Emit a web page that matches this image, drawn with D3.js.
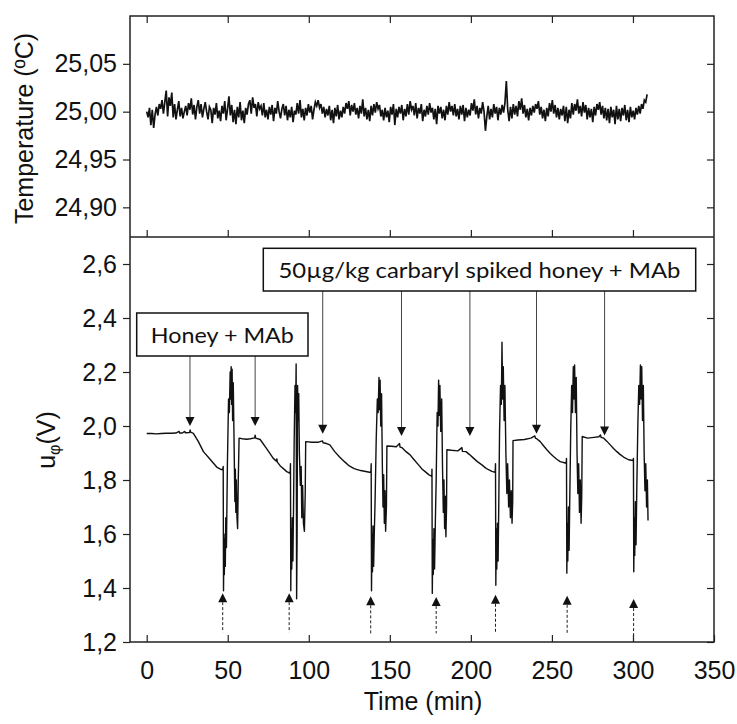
<!DOCTYPE html>
<html>
<head>
<meta charset="utf-8">
<script src="https://cdn.jsdelivr.net/npm/d3@7"></script>
<style>
  body { margin: 0; background: #fff; }
  svg { display: block; }
</style>
</head>
<body>
<div id="chart"></div>
<script>
// Temperature + u_phi trace vs time, two stacked panels sharing the x axis

// AXIS TICKS
const xTicks    = [0, 50, 100, 150, 200, 250, 300, 350];
const tempTicks = [24.90, 24.95, 25.00, 25.05];
const uTicks    = [1.2, 1.4, 1.6, 1.8, 2.0, 2.2, 2.4, 2.6];

// TEMPERATURE TRACE — deviation from 25,000 ºC in thousandths, one sample every 0.86 min
const tempBase = 25.0, tempStep = 0.86;
const tempDevMilli = [
  0,-6,4,-14,2,-17,-3,5,-4,8,3,12,-2,10,22,-5,15,6,
  20,-6,8,-8,2,11,-5,4,-7,0,6,-4,9,2,14,-3,7,-8,
  5,12,-2,8,-6,3,10,0,-8,5,2,-12,4,-3,9,-7,1,-10,
  6,-2,11,-9,3,16,-4,7,-11,2,-13,5,-6,10,-9,1,-12,4,
  -3,8,12,-2,15,4,8,-5,10,3,6,-4,9,-6,2,-8,5,-3,
  7,-10,4,-2,11,0,-7,3,8,-4,6,-9,2,-6,5,-11,1,-3,
  9,-2,12,-6,3,-9,4,-4,8,-1,6,-8,2,10,6,12,4,8,
  -2,5,-6,3,-4,6,-9,2,-12,4,-5,7,-8,1,-6,5,-2,9,
  3,11,-4,7,0,9,-3,4,-7,6,-2,13,-5,4,-8,2,-10,6,
  -4,8,-1,10,3,7,-5,2,-9,4,-6,1,-11,5,-3,8,-14,3,
  -6,5,-2,7,-9,3,-5,8,-3,11,2,6,-4,9,-7,4,-2,8,
  -10,2,-5,6,-3,9,-1,4,-8,3,-13,6,-2,5,-7,2,-9,6,
  -3,10,0,6,-4,8,-5,3,-8,6,-3,7,-10,4,-6,2,-4,9,
  1,13,-3,6,-7,4,-2,10,0,-20,-5,6,-8,3,-6,8,-2,5,
  -9,4,-3,7,-1,9,32,2,-10,5,-7,8,-3,6,-5,11,2,14,
  -2,7,-6,3,-9,4,-4,6,-1,8,3,11,-3,5,-7,2,-10,4,
  -5,9,0,12,-2,7,-6,4,-8,3,-4,6,-10,5,-12,2,-7,9,
  -3,8,1,13,-2,6,-5,10,-1,7,-8,4,-6,3,-11,5,-4,8,
  2,10,-3,6,-7,4,-9,3,-12,5,-6,2,-13,6,-8,3,-10,4,
  -4,7,-9,2,-11,5,-6,1,-8,4,-3,6,-2,8,3,12,10,18
];

// u_phi TRACE — [time (min), volts], one array per injection cycle
const uCycle1 = [
  [0,1.972],[3,1.972],[6,1.971],[9,1.972],[12,1.973],[15,1.973],[18,1.974],[20,1.98],[20.3,1.974],
  [22,1.974],[23.5,1.98],[23.8,1.975],[26.5,1.976],[26.8,1.985],[27.1,1.977],[28.8,1.973],
  [31.9,1.942],[35.0,1.905],[39.1,1.877],[43.2,1.848],[45.5,1.840],[46.9,1.838],
  [47.2,1.85],[47.4,1.39],[47.7,1.60],[47.9,1.45],[48.2,1.58],[48.5,1.48],[48.8,1.66],[49.2,1.55],
  [49.8,1.86],[50.5,2.10],[51.0,2.05],[51.5,2.20],[51.8,2.10],[52.1,2.22],[52.4,2.08],[52.7,2.21],
  [53.0,2.02],[53.4,2.16],[54.0,1.90],[54.4,1.72],[54.7,1.84],[55.0,1.68],[55.3,1.80],[55.7,1.66],
  [56.1,1.62],[56.5,1.80]
];
const uCycle2 = [
  [57.0,1.955],[59,1.953],[61.7,1.951],[64,1.953],[66.6,1.956],[66.9,1.966],[67.2,1.955],[70,1.950],
  [74.1,1.915],[78.1,1.880],[80,1.870],[80.3,1.878],[80.6,1.866],[82.3,1.853],[86.4,1.831],[88.5,1.825],
  [88.7,1.86],[88.9,1.39],[89.2,1.62],[89.5,1.47],[89.8,1.66],[90.2,1.50],[90.6,1.70],[91.0,1.95],
  [91.5,2.15],[91.9,2.05],[92.2,2.23],[92.5,1.36],[92.8,1.60],[93.1,2.15],[93.4,2.02],[93.8,2.12],
  [94.2,1.90],[94.8,1.78],[95.3,1.85],[95.7,1.66],[96.2,1.78],[96.7,1.64],[97.3,1.61],[97.8,1.75]
];
const uCycle3 = [
  [98.1,1.942],[102,1.940],[106,1.940],[108.5,1.945],[108.8,1.938],[111,1.935],[113,1.930],
  [116,1.905],[119,1.885],[122,1.868],[125,1.852],[128,1.842],[132,1.835],[138.3,1.828],
  [138.5,1.86],[138.7,1.39],[139.0,1.60],[139.3,1.46],[139.6,1.63],[140.0,1.48],[140.4,1.60],
  [140.9,1.72],[141.6,1.95],[142.3,2.10],[142.8,2.05],[143.3,2.18],[143.7,2.06],[144.0,2.17],
  [144.4,2.00],[144.9,2.12],[145.4,1.85],[145.8,1.70],[146.2,1.82],[146.6,1.64],[147.0,1.76],
  [147.4,1.61],[147.9,1.70]
];
const uCycle4 = [
  [148.2,1.926],[151,1.925],[154,1.923],[156,1.935],[156.3,1.922],[157.4,1.920],[160,1.905],
  [162.5,1.893],[165,1.875],[167.7,1.856],[170,1.840],[171.8,1.831],[174,1.820],[175.9,1.813],
  [176.0,1.84],[176.2,1.38],[176.5,1.58],[176.8,1.45],[177.2,1.62],[177.6,1.47],[178.1,1.65],
  [178.6,1.80],[179.2,2.05],[179.7,2.00],[180.1,2.17],[180.5,2.04],[180.9,2.15],[181.4,1.98],
  [182.0,2.10],[182.5,1.85],[183.0,1.68],[183.4,1.80],[183.8,1.62],[184.2,1.74],[184.6,1.59],
  [185.0,1.70]
];
const uCycle5 = [
  [185.2,1.912],[188,1.910],[192,1.908],[194.5,1.920],[194.8,1.906],[197,1.905],[199,1.895],
  [201.6,1.881],[204,1.868],[206.8,1.856],[209,1.845],[210.9,1.838],[213,1.832],[215.0,1.828],
  [215.2,1.86],[215.4,1.41],[215.7,1.62],[216.0,1.47],[216.4,1.64],[216.8,1.50],[217.2,1.70],
  [217.7,1.98],[218.3,2.15],[218.8,2.08],[219.2,2.31],[219.6,2.10],[220.0,2.22],[220.5,2.02],
  [221.0,2.15],[221.6,1.90],[222.2,1.75],[222.7,1.86],[223.3,1.70],[223.8,1.80],[224.4,1.66],
  [224.9,1.76],[225.4,1.64],[225.8,1.72]
];
const uCycle6 = [
  [226.0,1.946],[229,1.948],[233,1.950],[237,1.955],[239.5,1.963],[239.8,1.955],[240.8,1.952],
  [242.8,1.942],[244.8,1.927],[246.9,1.912],[249,1.898],[251,1.887],[253,1.877],[255.1,1.868],
  [258.8,1.862],
  [259.0,1.88],[259.2,1.455],[259.5,1.64],[259.8,1.50],[260.2,1.70],[260.6,1.54],[261.0,1.72],
  [261.6,1.98],[262.2,2.15],[262.7,2.05],[263.2,2.22],[263.6,2.10],[264.0,2.226],[264.5,2.05],
  [265.0,2.18],[265.5,1.90],[266.0,1.75],[266.5,1.86],[267.0,1.68],[267.5,1.80],[268.0,1.64],
  [268.4,1.74]
];
const uCycle7 = [
  [268.7,1.961],[272,1.955],[276,1.958],[279,1.960],[280,1.967],[280.3,1.958],[282,1.955],
  [284,1.943],[286,1.930],[288,1.917],[290.1,1.905],[292,1.895],[294.2,1.885],[297.3,1.875],
  [300.0,1.872],
  [300.3,1.88],[300.5,1.46],[300.8,1.66],[301.1,1.52],[301.5,1.72],[301.9,1.56],[302.4,1.78],
  [303.0,2.00],[303.6,2.15],[304.1,2.08],[304.6,2.226],[305.0,2.10],[305.4,2.22],[305.9,2.02],
  [306.4,2.15],[306.9,1.90],[307.4,1.76],[307.9,1.86],[308.4,1.70],[308.9,1.80],[309.3,1.65]
];

// ANNOTATION ARROWS (time, tip value)
const honeyArrowTimes  = [26.7, 66.9];
const honeyArrowTips   = [2.0, 2.0];
const spikedArrowTimes = [108.6, 157.2, 199.4, 240.5, 282.5];
const spikedArrowTips  = [1.971, 1.963, 1.963, 1.971, 1.965];
const injectTimes = [46.9, 87.9, 138.2, 178.6, 215.2, 259.4, 300.4];
const injectTips  = [1.381, 1.381, 1.369, 1.367, 1.375, 1.371, 1.359];
const injectTails = [1.236, 1.236, 1.232, 1.232, 1.233, 1.232, 1.2];

function drawChart() {
  const W = 737, H = 724;
  const L = 130, R = 714, T = 16, MID = 237, B = 642;
  const TICK = 25;                // tick label font size
  const axisFont = "'Liberation Sans', Arial, sans-serif";
  const boxFont  = "Lato, 'Open Sans', sans-serif";
  const ink = "#111";

  const svg = d3.select("#chart").append("svg")
    .attr("width", W).attr("height", H);

  // SCALES
  const x = d3.scaleLinear().domain([-10.3, 350]).range([L, R]);
  const yTemp = d3.scaleLinear().domain([24.869, 25.10]).range([MID, T]);
  const yU = d3.scaleLinear().domain([1.2, 2.7]).range([B, MID]);

  const loc = d3.formatLocale({ decimal: ",", thousands: ".", grouping: [3], currency: ["", ""] });

  const styleAxis = g => {
    g.select(".domain").remove();
    g.selectAll("line").attr("stroke", "#222").attr("stroke-width", 1.2);
    g.selectAll("text").attr("font-size", TICK).attr("font-family", axisFont).attr("fill", ink);
  };

  // AXES — left labelled (outward ticks), right / top / middle / bottom ticks pointing inward
  svg.append("g").attr("transform", `translate(${L},0)`)
    .call(d3.axisLeft(yTemp).tickValues(tempTicks).tickSize(7).tickPadding(6).tickFormat(loc.format(".2f")))
    .call(styleAxis);
  svg.append("g").attr("transform", `translate(${L},0)`)
    .call(d3.axisLeft(yU).tickValues(uTicks).tickSize(7).tickPadding(6).tickFormat(loc.format(".1f")))
    .call(styleAxis);
  svg.append("g").attr("transform", `translate(${R},0)`)
    .call(d3.axisRight(yTemp).tickValues(tempTicks).tickSize(-7).tickFormat(""))
    .call(styleAxis);
  svg.append("g").attr("transform", `translate(${R},0)`)
    .call(d3.axisRight(yU).tickValues(uTicks).tickSize(-7).tickFormat(""))
    .call(styleAxis);
  svg.append("g").attr("transform", `translate(0,${T})`)
    .call(d3.axisTop(x).tickValues(xTicks.slice(0, -1)).tickSize(-7).tickFormat(""))
    .call(styleAxis);
  svg.append("g").attr("transform", `translate(0,${MID})`)
    .call(d3.axisTop(x).tickValues(xTicks.slice(0, -1)).tickSize(7).tickFormat(""))
    .call(styleAxis);
  svg.append("g").attr("transform", `translate(0,${B})`)
    .call(d3.axisBottom(x).tickValues(xTicks).tickSize(-7).tickPadding(19).tickFormat(d3.format("d")))
    .call(styleAxis);

  // FRAME
  svg.append("rect")
    .attr("x", L).attr("y", T).attr("width", R - L).attr("height", B - T)
    .attr("fill", "none").attr("stroke", "#222").attr("stroke-width", 1.5);
  svg.append("line")
    .attr("x1", L).attr("x2", R).attr("y1", MID).attr("y2", MID)
    .attr("stroke", "#222").attr("stroke-width", 1.5);

  // TEMPERATURE LINE
  const tempData = tempDevMilli.map((d, i) => [i * tempStep, tempBase + d / 1000]);
  svg.append("path")
    .datum(tempData)
    .attr("d", d3.line().x(d => x(d[0])).y(d => yTemp(d[1])))
    .attr("fill", "none").attr("stroke", ink).attr("stroke-width", 1.7)
    .attr("stroke-linejoin", "miter");

  // u_phi LINE
  const uData = [].concat(uCycle1, uCycle2, uCycle3, uCycle4, uCycle5, uCycle6, uCycle7);
  svg.append("path")
    .datum(uData)
    .attr("d", d3.line().x(d => x(d[0])).y(d => yU(d[1])))
    .attr("fill", "none").attr("stroke", ink).attr("stroke-width", 1.4)
    .attr("stroke-linejoin", "round");

  // ANNOTATION BOXES
  const boxes = [
    { x0: 136.7, x1: 308, y0: 313, y1: 356, text: "Honey + MAb", len: 143, base: 343,
      times: honeyArrowTimes, tips: honeyArrowTips },
    { x0: 263.3, x1: 695.7, y0: 248.3, y1: 291, text: "50µg/kg carbaryl spiked honey + MAb", len: 402, base: 278,
      times: spikedArrowTimes, tips: spikedArrowTips }
  ];
  boxes.forEach(b => {
    b.times.forEach((t, i) => {
      const tipY = yU(b.tips[i]);
      svg.append("line")
        .attr("x1", x(t)).attr("x2", x(t))
        .attr("y1", b.y1).attr("y2", tipY - 8)
        .attr("stroke", "#444").attr("stroke-width", 1);
      svg.append("path")
        .attr("transform", `translate(${x(t)},${tipY})`)
        .attr("d", "M-4.5,-9L4.5,-9L0,0Z")
        .attr("fill", ink);
    });
    svg.append("rect")
      .attr("x", b.x0).attr("y", b.y0)
      .attr("width", b.x1 - b.x0).attr("height", b.y1 - b.y0)
      .attr("fill", "#fff").attr("stroke", ink).attr("stroke-width", 1.5);
    svg.append("text")
      .attr("x", (b.x0 + b.x1) / 2).attr("y", b.base)
      .attr("text-anchor", "middle")
      .attr("font-family", boxFont).attr("font-size", 21).attr("fill", ink)
      .attr("textLength", b.len).attr("lengthAdjust", "spacingAndGlyphs")
      .text(b.text);
  });

  // INJECTION MARKERS — dashed up arrows
  injectTimes.forEach((t, i) => {
    const tipY = yU(injectTips[i]);
    svg.append("line")
      .attr("x1", x(t)).attr("x2", x(t))
      .attr("y1", tipY + 9).attr("y2", yU(injectTails[i]))
      .attr("stroke", "#222").attr("stroke-width", 1)
      .attr("stroke-dasharray", "3,2");
    svg.append("path")
      .attr("transform", `translate(${x(t)},${tipY})`)
      .attr("d", "M-4.5,9L4.5,9L0,0Z")
      .attr("fill", ink);
  });

  // AXIS TITLES
  svg.append("text")
    .attr("transform", `translate(33,${(T + MID) / 2 + 2}) rotate(-90)`)
    .attr("text-anchor", "middle")
    .attr("font-family", axisFont).attr("font-size", TICK).attr("fill", ink)
    .text("Temperature (ºC)");

  const uLabel = svg.append("text")
    .attr("transform", "translate(55,440) rotate(-90)")
    .attr("text-anchor", "middle")
    .attr("font-family", axisFont).attr("font-size", TICK).attr("fill", ink);
  uLabel.append("tspan").text("u");
  uLabel.append("tspan").attr("font-size", 16).attr("dy", 5).text("φ");
  uLabel.append("tspan").attr("dy", -5).text("(V)");

  svg.append("text")
    .attr("x", 423).attr("y", 710)
    .attr("text-anchor", "middle")
    .attr("font-family", axisFont).attr("font-size", TICK).attr("fill", ink)
    .text("Time (min)");
}

drawChart();
</script>
</body>
</html>
